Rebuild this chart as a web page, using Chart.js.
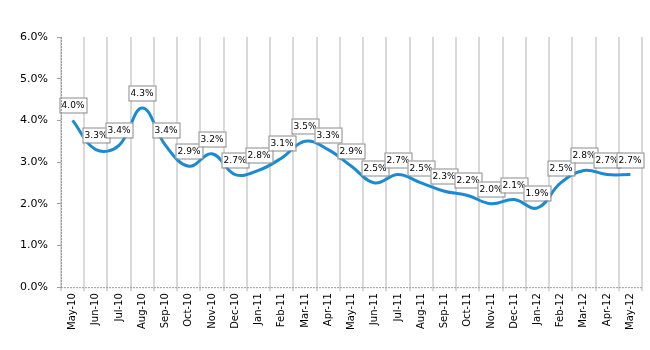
<!DOCTYPE html>
<html>
<head>
<meta charset="utf-8">
<script src="https://cdn.jsdelivr.net/npm/chart.js@4"></script>
<style>
  html, body { margin: 0; padding: 0; background: #fff; }
  #wrap { width: 650px; height: 350px; }
</style>
</head>
<body>
<div id="wrap"><canvas id="rateChart" width="650" height="350"></canvas></div>
<script>
const months = ['May-10', 'Jun-10', 'Jul-10', 'Aug-10', 'Sep-10', 'Oct-10', 'Nov-10', 'Dec-10',
  'Jan-11', 'Feb-11', 'Mar-11', 'Apr-11', 'May-11', 'Jun-11', 'Jul-11', 'Aug-11', 'Sep-11',
  'Oct-11', 'Nov-11', 'Dec-11', 'Jan-12', 'Feb-12', 'Mar-12', 'Apr-12', 'May-12'];

// rate in percent
const rates = [4.0, 3.3, 3.4, 4.3, 3.4, 2.9, 3.2, 2.7, 2.8, 3.1, 3.5, 3.3, 2.9, 2.5, 2.7,
  2.5, 2.3, 2.2, 2.0, 2.1, 1.9, 2.5, 2.8, 2.7, 2.7];

const yTicks = [0, 1, 2, 3, 4, 5, 6];

// dotted axis lines (border.dash would also dash the grid)
const dottedAxes = {
  id: 'dottedAxes',
  afterDatasetsDraw(chart) {
    const a = chart.chartArea;
    const c = chart.ctx;
    c.save();
    c.strokeStyle = '#9a9a9a';
    c.lineWidth = 1;
    c.setLineDash([2, 1]);
    c.beginPath();
    c.moveTo(a.left + 0.5, a.top);
    c.lineTo(a.left + 0.5, a.bottom);
    c.moveTo(a.left, a.bottom + 0.5);
    c.lineTo(a.right, a.bottom + 0.5);
    c.stroke();
    c.restore();
  }
};

// boxed value labels above each point
const boxLabels = {
  id: 'boxLabels',
  afterDatasetsDraw(chart) {
    const c = chart.ctx;
    const pts = chart.getDatasetMeta(0).data;
    c.save();
    c.font = '9px "DejaVu Sans", sans-serif';
    c.textAlign = 'center';
    c.textBaseline = 'middle';
    pts.forEach((p, i) => {
      const txt = rates[i].toFixed(1) + '%';
      const w = 27, h = 15;
      const cx = Math.round(p.x), cy = Math.round(p.y - 15);
      c.fillStyle = '#fff';
      c.fillRect(cx - w / 2, cy - h / 2, w, h);
      c.strokeStyle = '#8a8a8a';
      c.lineWidth = 1;
      c.strokeRect(cx - w / 2 + 0.5, cy - h / 2 + 0.5, w, h);
      c.fillStyle = '#000';
      c.fillText(txt, cx, cy + 1);
    });
    c.restore();
  }
};

const ctx = document.getElementById('rateChart').getContext('2d');

new Chart(ctx, {
  type: 'line',
  data: {
    labels: months,
    datasets: [{
      data: rates,
      borderColor: '#1a8ad2',
      borderWidth: 3,
      pointRadius: 0,
      tension: 0.4,
      fill: false
    }]
  },
  options: {
    responsive: false,
    animation: false,
    layout: { padding: { top: 37, right: 8, left: 11, bottom: 18 } },
    plugins: {
      legend: { display: false },
      tooltip: { enabled: false }
    },
    scales: {
      x: {
        offset: true,
        grid: {
          offset: true,
          color: '#d9d9d9',
          lineWidth: 2,
          tickLength: 4
        },
        border: { display: false },
        ticks: {
          maxRotation: 90,
          minRotation: 90,
          autoSkip: false,
          color: '#000',
          padding: 2,
          font: { family: '"DejaVu Sans", sans-serif', size: 10 }
        }
      },
      y: {
        min: 0,
        max: 6,
        afterBuildTicks(axis) { axis.ticks = yTicks.map(v => ({ value: v })); },
        grid: {
          drawOnChartArea: false,
          color: '#a0a0a0',
          tickLength: 4
        },
        border: { display: false },
        ticks: {
          color: '#000',
          padding: 9,
          callback: v => v.toFixed(1) + '%',
          font: { family: '"DejaVu Sans", sans-serif', size: 11 }
        }
      }
    }
  },
  plugins: [boxLabels, dottedAxes]
});
</script>
</body>
</html>
